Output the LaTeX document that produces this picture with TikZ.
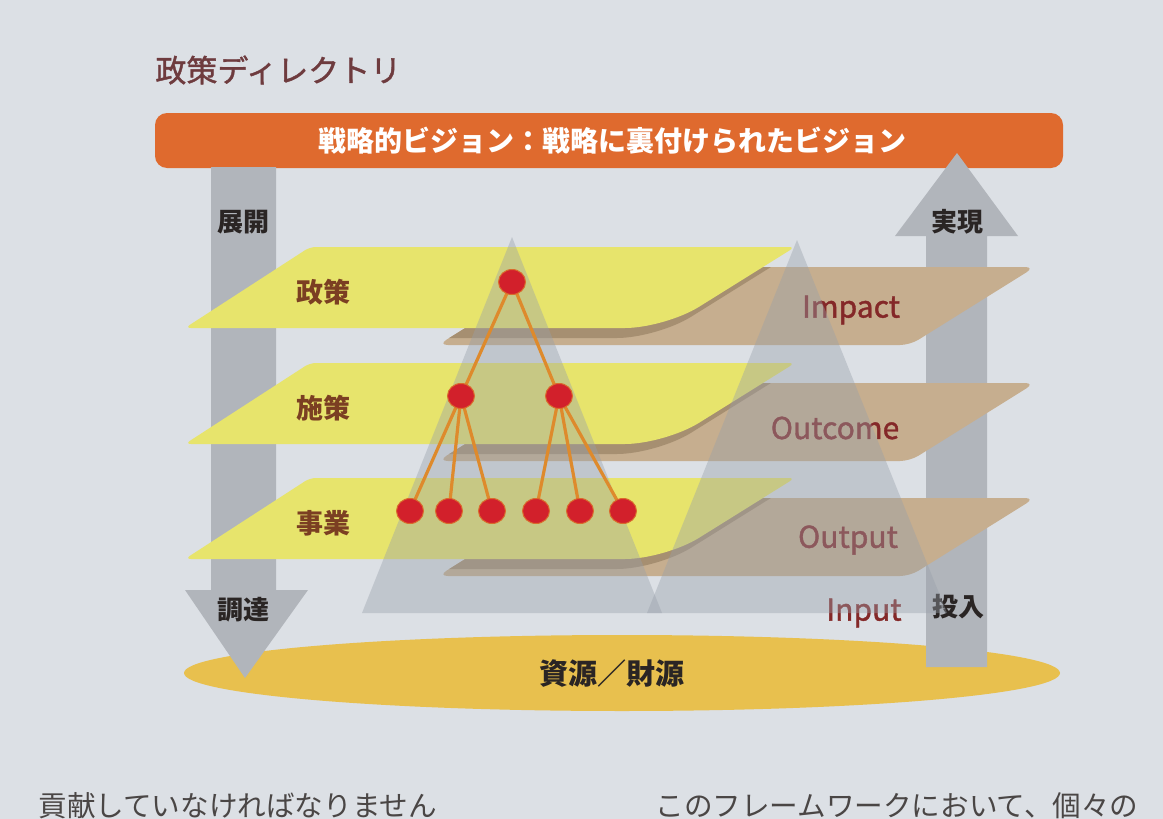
\documentclass[tikz,border=0pt]{standalone}
\usepackage{fontspec}
\newfontfamily\cjk{Noto Sans CJK JP}
\newfontfamily\cjkmed[FakeBold=1.3]{Noto Sans CJK JP}
\usetikzlibrary{shapes.geometric}
\definecolor{bgcol}{HTML}{DCE0E5}
\definecolor{barorange}{HTML}{DF6A2E}
\definecolor{arrowgray}{HTML}{B1B5BB}
\definecolor{labelbrown}{HTML}{7B3F22}
\definecolor{engred}{HTML}{842828}
\definecolor{titlecol}{HTML}{6E3B3E}
\definecolor{resyellow}{HTML}{E8C04E}
\definecolor{layeryellow}{HTML}{E7E46C}
\definecolor{layerbrown}{HTML}{C6AE8F}
\definecolor{shadebrown}{HTML}{A68F71}
\definecolor{trigray}{HTML}{98A0AA}
\definecolor{dotred}{HTML}{D2202B}
\definecolor{linkorange}{HTML}{DE8A2C}
\definecolor{darktext}{HTML}{2A2524}
\begin{document}
\begin{tikzpicture}[x=0.5pt,y=-0.5pt,
  every node/.style={font=\cjk, inner sep=0pt},
  title/.style={font=\cjkmed\fontsize{15.5pt}{18pt}\selectfont, text=titlecol},
  bartext/.style={font=\cjk\bfseries\fontsize{14pt}{16pt}\selectfont, text=white},
  arrowtext/.style={font=\cjk\bfseries\fontsize{13pt}{15pt}\selectfont, text=darktext},
  layerlabel/.style={font=\cjk\bfseries\fontsize{13.5pt}{15pt}\selectfont, text=labelbrown},
  englabel/.style={font=\cjkmed\fontsize{15pt}{17pt}\selectfont, text=engred},
  restext/.style={font=\cjk\bfseries\fontsize{14.5pt}{17pt}\selectfont, text=darktext},
  bodytext/.style={font=\cjk\fontsize{14.3pt}{17pt}\selectfont, text=darktext!85},
  tri/.style={fill=trigray, fill opacity=0.4},
  dot/.style={ellipse, fill=dotred, draw=linkorange!70!dotred, line width=0.5pt, minimum width=13.5pt, minimum height=12.5pt},
  link/.style={draw=linkorange, line width=1.6pt},
  arrowfill/.style={fill=arrowgray}
]
\useasboundingbox (0,0) rectangle (1163,819);
\clip (0,0) rectangle (1163,819);
\fill[bgcol] (0,0) rectangle (1163,819);

% title
\node[title, anchor=west] (title) at (155,70) {政策ディレクトリ};

% orange bar
\fill[barorange, rounded corners=6pt] (155,113) rectangle (1063,168);
\node[bartext] (bar) at (612,141) {戦略的ビジョン：戦略に裏付けられたビジョン};

% resource ellipse
\fill[resyellow] (622,673) ellipse [x radius=438, y radius=38];
\node[restext] (res) at (612,674) {資源／財源};

% left arrow (down)
\fill[arrowfill] (211,167) -- (276,167) -- (276,590) -- (308,590) -- (245,678) -- (185,590) -- (211,590) -- cycle;
% right arrow (up)
\fill[arrowfill] (926,667) -- (987,667) -- (987,236) -- (1018,236) -- (957,153) -- (895,236) -- (926,236) -- cycle;

\node[arrowtext] (tenkai) at (243,222) {展開};
\node[arrowtext] (chotatsu) at (243,610) {調達};
\node[arrowtext] (jitsugen) at (957,222) {実現};
\node[arrowtext] (tounyu) at (958,607) {投入};

% layers
\foreach \dy in {0,116,231}{
  \fill[layerbrown, rounded corners=5pt] (563,267+\dy) -- (1035,267+\dy) -- (910,345+\dy) -- (438,345+\dy) -- cycle;
  \begin{scope}
    \clip[rounded corners=5pt] (563,267+\dy) -- (1035,267+\dy) -- (910,345+\dy) -- (438,345+\dy) -- cycle;
    \fill[shadebrown] [rounded corners=3pt] (302,257+\dy) -- (787,257+\dy) [rounded corners=20pt] -- (657,338+\dy) [rounded corners=3pt] -- (177,338+\dy) -- cycle;
  \end{scope}
  \fill[layeryellow] [rounded corners=3pt] (310,247+\dy) -- (795,247+\dy) [rounded corners=20pt] -- (665,328+\dy) [rounded corners=3pt] -- (185,328+\dy) -- cycle;
}

\node[layerlabel] (seisaku) at (323,292) {政策};
\node[layerlabel] (shisaku) at (323,408) {施策};
\node[layerlabel] (jigyo) at (323,523) {事業};

\node[englabel] (impact) at (851,310) {Impact};
\node[englabel] (outcome) at (835,428) {Outcome};
\node[englabel] (output) at (848,540) {Output};
\node[englabel] (input) at (864,613) {Input};

% translucent triangles
\fill[tri] (512,237) -- (662,613) -- (362,613) -- cycle;
\fill[tri] (797,240) -- (947,613) -- (647,613) -- cycle;

% tree: links first, then dots on top
\coordinate (pc) at (512,282);
\coordinate (m1c) at (461,396);
\coordinate (m2c) at (559,396);
\foreach \x in {410,449,492}{ \draw[link] (m1c) -- (\x,511); }
\foreach \x in {536,580,623}{ \draw[link] (m2c) -- (\x,511); }
\draw[link] (pc) -- (m1c);
\draw[link] (pc) -- (m2c);
\node[dot] (p) at (pc) {};
\node[dot] (m1) at (m1c) {};
\node[dot] (m2) at (m2c) {};
\node[dot] (b1) at (410,511) {};
\node[dot] (b2) at (449,511) {};
\node[dot] (b3) at (492,511) {};
\node[dot] (b4) at (536,511) {};
\node[dot] (b5) at (580,511) {};
\node[dot] (b6) at (623,511) {};

% body text (cut off at the page edge, as in the source)
\node[bodytext, anchor=west] (body1) at (38,806) {貢献していなければなりません};
\node[bodytext, anchor=west] (body2) at (655,806) {このフレームワークにおいて、個々の};
\end{tikzpicture}
\end{document}
